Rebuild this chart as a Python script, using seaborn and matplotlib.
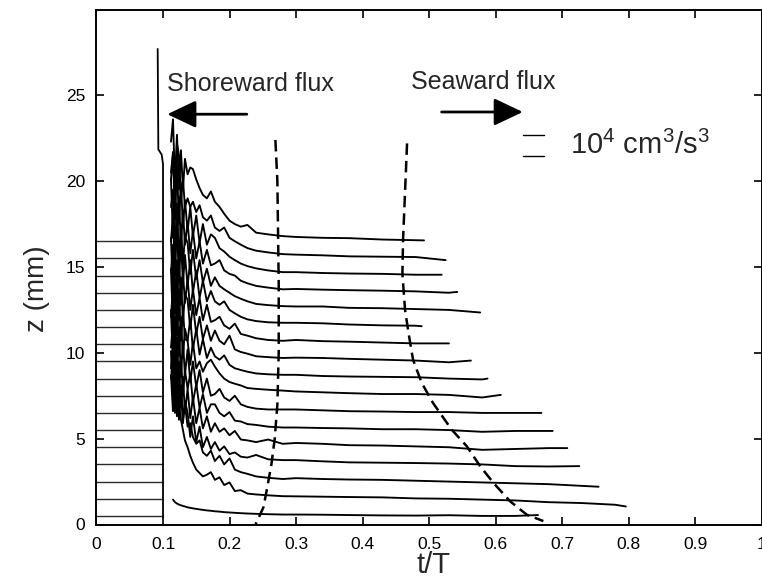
import numpy as np
import pandas as pd
import matplotlib
matplotlib.use("Agg")
import matplotlib.pyplot as plt
import seaborn as sns

NA = np.nan

# ---- data -------------------------------------------------------------
# profile baselines (mm), one per measurement level
BASE_Z = [0.5, 1.5, 2.5, 3.5, 4.5, 5.5, 6.5, 7.5, 8.5, 9.5,
          10.5, 11.5, 12.5, 13.5, 14.5, 15.5, 16.5]
# flat pre-event part of every profile
T_BASE = [0.0, 0.1]

# early (spiky) part of the profiles: offsets above baseline in mm
T_SPIKE = [0.112, 0.115, 0.118, 0.121, 0.124, 0.127, 0.130, 0.133, 0.137, 0.141,
           0.145, 0.150, 0.155, 0.160, 0.166, 0.172, 0.178, 0.185, 0.192, 0.200,
           0.208, 0.217, 0.227, 0.240, 0.258, 0.280]
SPIKE_MM = [
    [NA, 0.95, 0.8, 0.72, 0.66, 0.62, 0.58, 0.55, 0.5, 0.47, 0.44, 0.41, 0.38, 0.35, 0.32, 0.3, 0.27, 0.25, 0.22, 0.2, 0.18, 0.16, 0.14, 0.12, 0.1, 0.08],
    [7.2, 5.1, 6.4, 4.8, 5.6, 4.6, 4.0, 3.4, 3.0, 2.5, 2.1, 1.7, 1.5, 1.3, 1.4, 1.55, 1.1, 1.25, 0.8, 0.95, 0.45, 0.5, 0.3, 0.25, 0.2, 0.15],
    [6.6, 7.8, 4.6, 6.8, 4.2, 5.6, 3.6, 4.5, 3.2, 3.4, 2.6, 2.2, 2.4, 1.7, 1.5, 1.8, 1.2, 1.5, 1.0, 1.35, 0.7, 0.55, 0.45, 0.3, 0.22, 0.15],
    [5.0, 6.2, 3.0, 5.5, 2.6, 4.6, 2.4, 3.7, 3.0, 1.6, 2.8, 1.3, 2.2, 1.0, 1.6, 0.9, 1.3, 0.8, 1.05, 0.6, 0.7, 0.45, 0.4, 0.55, 0.3, 0.25],
    [5.6, 2.6, 6.0, 2.4, 5.0, 2.3, 4.1, 2.0, 3.4, 1.7, 2.9, 1.4, 2.3, 1.1, 1.8, 0.9, 1.4, 0.9, 1.1, 0.7, 0.95, 0.45, 0.4, 0.3, 0.45, 0.2],
    [4.8, 6.3, 2.5, 5.4, 2.2, 4.3, 2.0, 3.5, 2.4, 3.3, 1.6, 2.7, 1.3, 2.1, 1.0, 1.5, 1.5, 1.0, 0.8, 1.05, 0.55, 0.5, 0.35, 0.3, 0.2, 0.15],
    [6.0, 2.8, 5.6, 2.4, 5.0, 2.1, 4.2, 2.2, 3.7, 1.8, 3.0, 1.5, 2.5, 1.2, 2.0, 1.0, 1.1, 1.4, 0.9, 0.7, 1.0, 0.5, 0.35, 0.25, 0.2, 0.2],
    [4.6, 6.4, 2.6, 5.8, 2.3, 4.6, 2.2, 3.9, 3.2, 1.8, 3.1, 1.6, 2.0, 1.4, 1.9, 2.1, 1.7, 1.3, 1.0, 0.8, 0.7, 0.6, 0.45, 0.4, 0.35, 0.3],
    [6.4, 2.9, 5.8, 2.5, 5.2, 2.2, 4.0, 2.3, 2.2, 3.5, 1.7, 2.9, 1.4, 2.3, 1.2, 1.8, 1.3, 1.1, 1.35, 0.8, 0.6, 0.5, 0.4, 0.3, 0.25, 0.22],
    [5.2, 6.8, 2.8, 5.9, 2.4, 4.9, 2.3, 3.9, 3.6, 1.9, 3.3, 1.6, 2.6, 1.3, 2.1, 1.2, 1.8, 1.2, 1.0, 1.5, 0.7, 0.55, 0.45, 0.3, 0.25, 0.2],
    [6.2, 2.9, 5.7, 2.6, 5.0, 2.3, 4.2, 2.4, 3.8, 2.0, 3.2, 1.7, 2.7, 1.4, 2.3, 1.3, 1.4, 1.6, 1.1, 0.9, 1.2, 0.6, 0.5, 0.35, 0.25, 0.2],
    [5.0, 6.6, 3.0, 6.0, 2.6, 5.1, 2.5, 4.2, 2.4, 3.9, 2.0, 3.3, 1.7, 2.7, 1.5, 2.1, 1.5, 1.3, 1.5, 1.0, 0.8, 0.6, 0.45, 0.35, 0.28, 0.25],
    [6.0, 7.0, 3.2, 6.2, 2.8, 5.0, 2.6, 4.3, 3.9, 2.1, 3.5, 1.8, 2.9, 1.6, 2.4, 1.4, 1.9, 1.4, 1.2, 1.0, 0.8, 0.65, 0.5, 0.35, 0.28, 0.22],
    [6.6, 3.2, 6.4, 2.9, 5.6, 2.7, 4.8, 2.8, 4.1, 2.3, 3.6, 2.0, 3.0, 1.7, 2.5, 1.6, 1.7, 1.9, 1.3, 1.1, 1.0, 0.7, 0.55, 0.4, 0.3, 0.2],
    [5.6, 7.0, 3.3, 6.4, 3.0, 5.4, 2.8, 4.4, 2.6, 4.0, 2.3, 3.5, 1.9, 3.0, 1.8, 2.4, 2.2, 1.6, 1.4, 1.1, 0.9, 0.7, 0.55, 0.42, 0.3, 0.2],
    [5.0, 6.2, 3.2, 6.7, 6.0, 3.4, 4.6, 3.0, 3.5, 3.0, 3.3, 2.7, 3.1, 2.4, 2.2, 2.5, 1.8, 1.6, 1.8, 1.2, 1.0, 0.8, 0.6, 0.45, 0.35, 0.25],
    [5.8, 7.1, 3.4, 6.2, 3.0, 5.3, 3.0, 4.8, 3.9, 4.3, 4.2, 3.6, 3.1, 2.7, 2.5, 2.9, 2.3, 2.0, 1.6, 1.2, 1.0, 0.85, 0.95, 0.5, 0.4, 0.3],
]

# late (quiet) part of the profiles
T_TAIL = [0.30, 0.34, 0.38, 0.43, 0.48, 0.53, 0.58, 0.63, 0.68, 0.73, 0.78]
TAIL_MM = [
    [0.08, 0.07, 0.05, 0.03, 0.02, 0.04, 0.0, 0.0, NA, NA, NA],
    [0.14, 0.12, 0.1, 0.08, 0.02, 0.0, -0.05, -0.1, -0.2, -0.25, -0.35],
    [0.2, 0.15, 0.12, 0.1, 0.05, 0.0, -0.05, -0.1, -0.15, -0.25, NA],
    [0.25, 0.18, 0.12, 0.1, 0.08, 0.05, 0.0, -0.1, -0.12, NA, NA],
    [0.25, 0.2, 0.12, 0.1, 0.05, 0.0, -0.15, -0.1, -0.05, NA, NA],
    [0.15, 0.12, 0.1, 0.05, 0.05, 0.0, -0.1, -0.05, NA, NA, NA],
    [0.2, 0.15, 0.1, 0.08, 0.05, 0.05, 0.0, 0.0, NA, NA, NA],
    [0.25, 0.2, 0.15, 0.1, 0.1, 0.05, -0.1, NA, NA, NA, NA],
    [0.22, 0.15, 0.12, 0.1, 0.08, 0.0, -0.05, NA, NA, NA, NA],
    [0.22, 0.2, 0.15, 0.1, 0.05, -0.05, NA, NA, NA, NA, NA],
    [0.25, 0.18, 0.15, 0.1, 0.05, 0.0, NA, NA, NA, NA, NA],
    [0.25, 0.22, 0.15, 0.1, 0.08, NA, NA, NA, NA, NA, NA],
    [0.2, 0.2, 0.12, 0.1, 0.05, 0.0, NA, NA, NA, NA, NA],
    [0.22, 0.18, 0.15, 0.12, 0.08, 0.0, NA, NA, NA, NA, NA],
    [0.2, 0.15, 0.12, 0.1, 0.05, NA, NA, NA, NA, NA, NA],
    [0.22, 0.18, 0.12, 0.1, 0.08, NA, NA, NA, NA, NA, NA],
    [0.25, 0.2, 0.18, 0.1, NA, NA, NA, NA, NA, NA, NA],
]
T_END = [0.664, 0.796, 0.755, 0.726, 0.708, 0.686, 0.669, 0.608, 0.588, 0.563,
         0.530, 0.489, 0.577, 0.5425, 0.519, 0.525, 0.4925]
END_MM = [0.05, -0.45, -0.3, -0.1, -0.05, -0.05, 0.0, 0.05, 0.0, 0.05,
          0.05, 0.05, -0.15, 0.05, 0.05, -0.1, 0.05]

# vertical reference line near t/T = 0.1
VLINE_T = [0.092, 0.093, 0.098, 0.100, 0.100]
VLINE_Z = [27.7, 21.85, 21.55, 21.0, 0.4]

# dashed curves
SHORE_T = [0.269, 0.272, 0.273, 0.274, 0.274, 0.272, 0.268, 0.263, 0.256, 0.251, 0.238]
SHORE_Z = [22.4, 20.0, 17.0, 14.0, 10.0, 7.0, 5.0, 3.5, 2.0, 1.0, -0.1]
SEA_T = [0.467, 0.461, 0.460, 0.464, 0.469, 0.476, 0.489, 0.506, 0.534, 0.557,
         0.577, 0.597, 0.622, 0.647, 0.672]
SEA_Z = [22.2, 16.6, 14.6, 12.5, 11.2, 9.6, 8.25, 7.08, 5.53, 4.55,
         3.39, 2.42, 1.35, 0.57, 0.2]

# scale bar: 10^4 cm^3/s^3 corresponds to this many mm on the z axis
SCALE_MM = 1.2

X_TICKS = [0.0, 0.1, 0.2, 0.3, 0.4, 0.5, 0.6, 0.7, 0.8, 0.9, 1.0]
X_TICK_LABELS = ["0", "0.1", "0.2", "0.3", "0.4", "0.5", "0.6", "0.7", "0.8", "0.9", "1"]
Y_TICKS = [0, 5, 10, 15, 20, 25]

# ---- build long tables --------------------------------------------------
rows = []
for k, b in enumerate(BASE_Z):
    for t, v in zip(T_SPIKE, SPIKE_MM[k]):
        if not np.isnan(v):
            rows.append((k, t, b + v))
    for t, v in zip(T_TAIL, TAIL_MM[k]):
        if not np.isnan(v) and t < T_END[k]:
            rows.append((k, t, b + v))
    rows.append((k, T_END[k], b + END_MM[k]))
prof = pd.DataFrame(rows, columns=["profile", "t", "z"])

base_rows = []
for k, b in enumerate(BASE_Z):
    for t in T_BASE:
        base_rows.append((k, t, b))
base = pd.DataFrame(base_rows, columns=["profile", "t", "z"])

# ---- figure ---------------------------------------------------------------
sns.set_theme(style="ticks")
plt.rcParams["font.family"] = ["Liberation Sans", "DejaVu Sans"]
plt.rcParams["mathtext.default"] = "regular"

fig = plt.figure(figsize=(7.62, 5.81), dpi=100)
ax = fig.add_axes([96.5 / 762, (581 - 524.5) / 581, 665 / 762, 515 / 581])

sns.lineplot(data=base, x="t", y="z", units="profile", estimator=None, sort=False,
             color="#2a2a2a", linewidth=1.0, ax=ax, legend=False)
sns.lineplot(data=prof, x="t", y="z", units="profile", estimator=None, sort=False,
             color="black", linewidth=1.35, ax=ax, legend=False)
sns.lineplot(x=VLINE_T, y=VLINE_Z, estimator=None, sort=False, color="black",
             linewidth=1.3, ax=ax)
n_before = len(ax.lines)
sns.lineplot(x=SHORE_T, y=SHORE_Z, estimator=None, sort=False, color="black",
             linewidth=1.8, ax=ax)
sns.lineplot(x=SEA_T, y=SEA_Z, estimator=None, sort=False, color="black",
             linewidth=1.8, ax=ax)
for ln in ax.lines[n_before:]:
    ln.set_linestyle((0, (4.6, 2.4)))

# scale bar
sb_top = 22.67
for zz in (sb_top, sb_top - SCALE_MM):
    ax.plot([0.641, 0.673], [zz, zz], color="black", linewidth=1.0)
ax.text(0.712, sb_top - SCALE_MM / 2, r"10$^4$ cm$^3$/s$^3$", fontsize=21,
        ha="left", va="center")

# flux annotations
ax.text(0.1065, 25.25, "Shoreward flux", fontsize=18, ha="left", va="baseline")
ax.text(0.4725, 25.35, "Seaward flux", fontsize=18, ha="left", va="baseline")
arrow_style = "-|>,head_length=0.8,head_width=0.38"
ax.annotate("", xy=(0.1065, 23.9), xytext=(0.226, 23.9),
            arrowprops=dict(arrowstyle=arrow_style, mutation_scale=22, lw=2.0,
                            color="black", shrinkA=0, shrinkB=0))
ax.annotate("", xy=(0.641, 24.03), xytext=(0.519, 24.03),
            arrowprops=dict(arrowstyle=arrow_style, mutation_scale=22, lw=2.0,
                            color="black", shrinkA=0, shrinkB=0))

# axes styling
ax.set_xlim(0, 1)
ax.set_ylim(0, 30)
ax.set_xticks(X_TICKS)
ax.set_xticklabels(X_TICK_LABELS)
ax.set_yticks(Y_TICKS)
ax.tick_params(direction="in", top=True, right=True, length=6, width=1.2,
               labelsize=12.5, colors="black")
ax.tick_params(axis="x", pad=9)
ax.tick_params(axis="y", pad=8)
for sp in ax.spines.values():
    sp.set_visible(True)
    sp.set_linewidth(1.4)
    sp.set_color("black")
ax.set_xlabel("t/T", fontsize=21)
ax.set_ylabel("z (mm)", fontsize=20)
ax.xaxis.set_label_coords(0.507, -0.052)
ax.yaxis.set_label_coords(-0.07, 0.457)

fig.savefig("out.png", dpi=100, facecolor="white")
